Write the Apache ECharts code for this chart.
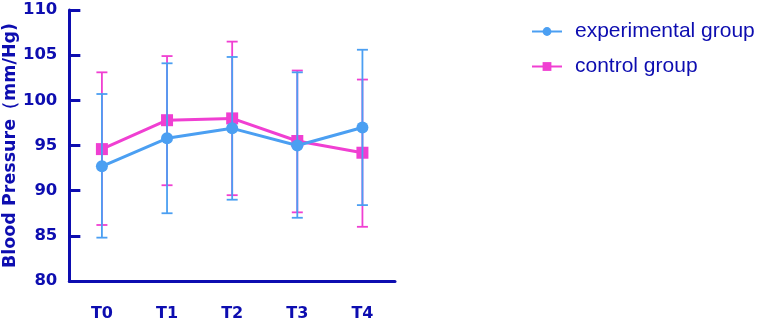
<!DOCTYPE html>
<html>
<head>
<meta charset="utf-8">
<script src="https://cdn.jsdelivr.net/npm/echarts@6/dist/echarts.min.js"></script>
<style>html,body{margin:0;padding:0;background:#fff}#c{width:765px;height:325px}</style>
</head>
<body>
<div id="c"></div>
<script>
const categories = ['T0', 'T1', 'T2', 'T3', 'T4'];
const expMean = [92.7, 95.8, 96.9, 95.0, 97.0];
const expUpper = [100.7, 104.1, 104.8, 103.1, 105.6];
const expLower = [84.8, 87.5, 89.0, 87.0, 88.4];
const ctrlMean = [94.6, 97.8, 98.0, 95.5, 94.2];
const ctrlUpper = [103.1, 104.9, 106.5, 103.3, 102.3];
const ctrlLower = [86.2, 90.6, 89.5, 87.6, 86.0];
const yTicks = { min: 80, max: 110, interval: 5 };

const BLUE = '#4b9ff2';
const PINK = '#f03fd2';
const NAVY = '#0d0db0';

function errData(lo, hi) { return categories.map((c, i) => [i, lo[i], hi[i]]); }
function errSeries(name, lo, hi, color, z) {
  return {
    type: 'custom', name: name + '_err', z: z, silent: true,
    data: errData(lo, hi),
    encode: { x: 0, y: [1, 2] },
    renderItem: function (params, api) {
      const i = api.value(0);
      const p1 = api.coord([i, api.value(1)]);
      const p2 = api.coord([i, api.value(2)]);
      const w = 5.5;
      const st = { stroke: color, lineWidth: 1.8 };
      return {
        type: 'group', children: [
          { type: 'line', shape: { x1: p1[0], y1: p1[1], x2: p2[0], y2: p2[1] }, style: st },
          { type: 'line', shape: { x1: p1[0] - w, y1: p1[1], x2: p1[0] + w, y2: p1[1] }, style: st },
          { type: 'line', shape: { x1: p2[0] - w, y1: p2[1], x2: p2[0] + w, y2: p2[1] }, style: st }
        ]
      };
    }
  };
}

const chart = echarts.init(document.getElementById('c'), null, { renderer: 'canvas' });
chart.setOption({
  animation: false,
  backgroundColor: '#fff',
  grid: { left: 65, right: 370, top: 10, bottom: 44, containLabel: false },
  legend: {
    orient: 'vertical', left: 526, top: 16, itemWidth: 30, itemHeight: 11, itemGap: 14,
    data: ['experimental group', 'control group'],
    textStyle: { fontSize: 21, color: NAVY, fontFamily: 'Liberation Sans', padding: [0, 0, 0, 8] }
  },
  xAxis: {
    type: 'category', data: categories, boundaryGap: true,
    axisLine: { lineStyle: { color: NAVY, width: 3 } },
    axisTick: { alignWithLabel: true, length: 10, lineStyle: { color: NAVY, width: 3 } },
    axisLabel: { margin: 25, fontSize: 16, fontWeight: 'bold', color: NAVY, fontFamily: 'DejaVu Sans' }
  },
  yAxis: {
    type: 'value', min: yTicks.min, max: yTicks.max, interval: yTicks.interval,
    name: 'Blood Pressure（mm/Hg)', nameLocation: 'middle', nameGap: 44, nameRotate: 90,
    nameTextStyle: { fontSize: 17.5, fontWeight: 'bold', color: NAVY, fontFamily: 'DejaVu Sans' },
    splitLine: { show: false },
    axisLine: { show: true, lineStyle: { color: NAVY, width: 3 } },
    axisTick: { show: true, inside: true, length: 11, lineStyle: { color: NAVY, width: 3 } },
    axisLabel: { margin: 12, fontSize: 16.5, fontWeight: 'bold', color: NAVY, fontFamily: 'DejaVu Sans' }
  },
  series: [
    {
      name: 'control group', type: 'line', data: ctrlMean, z: 2,
      symbol: 'rect', symbolSize: 12, color: PINK,
      lineStyle: { color: PINK, width: 3 }, itemStyle: { color: PINK }
    },
    errSeries('control group', ctrlLower, ctrlUpper, PINK, 3),
    errSeries('experimental group', expLower, expUpper, BLUE, 4),
    {
      name: 'experimental group', type: 'line', data: expMean, z: 5,
      symbol: 'circle', symbolSize: 12, color: BLUE,
      lineStyle: { color: BLUE, width: 3 }, itemStyle: { color: BLUE }
    }
  ]
});
</script>
</body>
</html>
